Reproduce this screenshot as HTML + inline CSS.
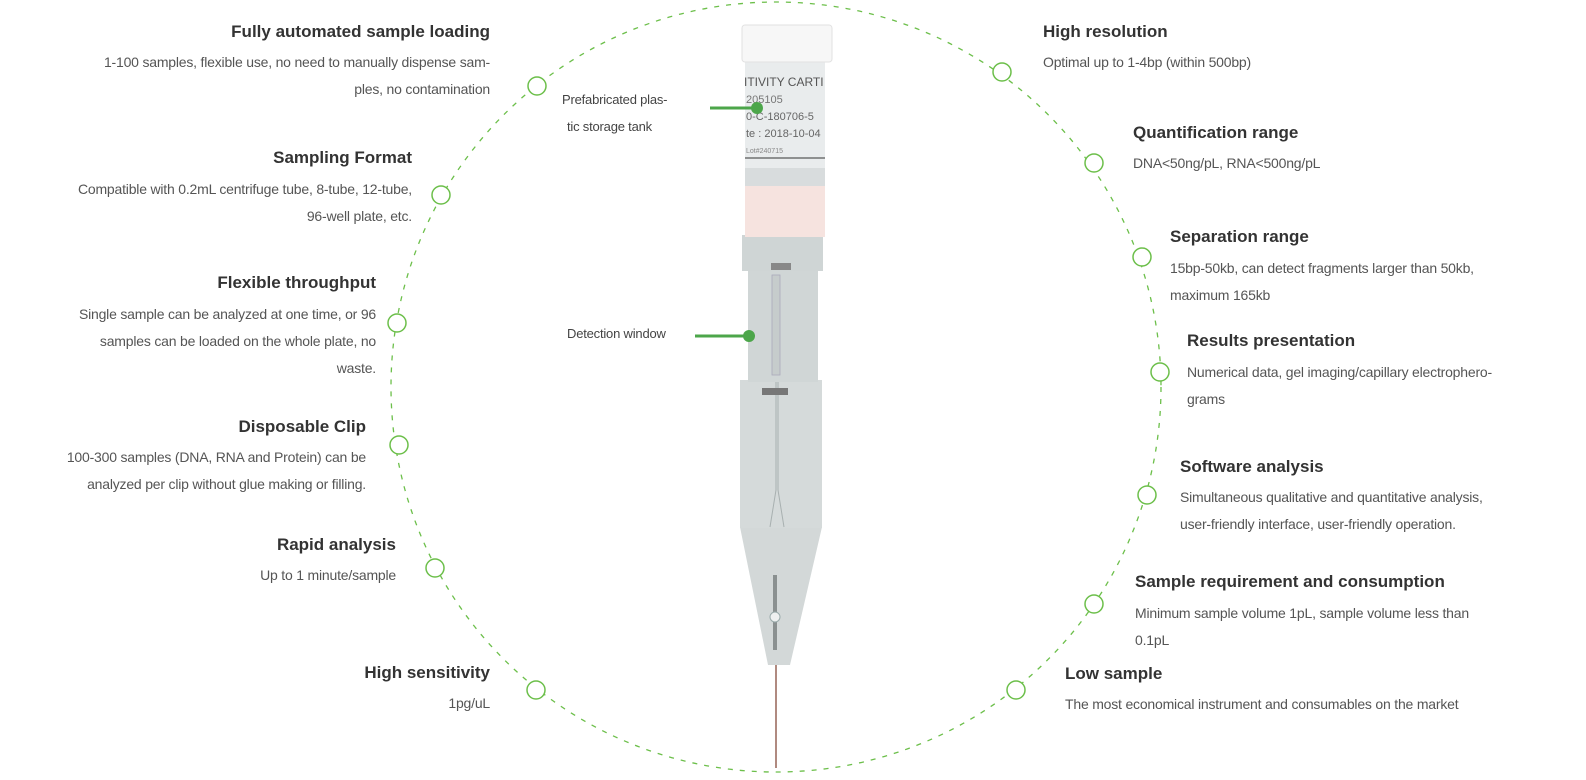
<!DOCTYPE html>
<html><head><meta charset="utf-8"><style>
html,body{margin:0;padding:0;background:#fff;}
#c{position:relative;width:1586px;height:780px;overflow:hidden;font-family:"Liberation Sans",sans-serif;}
.t,.b{position:absolute;white-space:nowrap;line-height:20px;}
.t{font-size:17px;font-weight:bold;color:#333;}
.b{font-size:14px;color:#555;letter-spacing:-0.2px;}
.s{font-size:13px;color:#444;position:absolute;white-space:nowrap;line-height:20px;letter-spacing:-0.2px;}
</style></head><body><div id="c">
<svg width="1586" height="780" style="position:absolute;left:0;top:0">
<circle cx="776" cy="387" r="385" fill="none" stroke="#6cbf4a" stroke-width="1.3" stroke-dasharray="5 7"/>
<g fill="#fff" stroke="#6cbf4a" stroke-width="1.5">
<circle cx="537" cy="86" r="9"/><circle cx="441" cy="195" r="9"/><circle cx="397" cy="323" r="9"/>
<circle cx="399" cy="445" r="9"/><circle cx="435" cy="568" r="9"/><circle cx="536" cy="690" r="9"/>
<circle cx="1002" cy="72" r="9"/><circle cx="1094" cy="163" r="9"/><circle cx="1142" cy="257" r="9"/>
<circle cx="1160" cy="372" r="9"/><circle cx="1147" cy="495" r="9"/><circle cx="1094" cy="604" r="9"/>
<circle cx="1016" cy="690" r="9"/>
</g>
<line x1="776" y1="660" x2="776" y2="768" stroke="#b08a80" stroke-width="2"/>
<path d="M740 527 L822 527 L790 665 L768 665 Z" fill="#d3d8d8"/>
<rect x="773" y="575" width="4" height="75" fill="#8a9090"/>
<circle cx="775" cy="617" r="5" fill="#eef0f0" stroke="#9aa" />
<rect x="740" y="380" width="82" height="148" fill="#d5dada"/>
<path d="M776 380 L776 490 L770 527 M778 380 L778 490 L784 527" stroke="#a8b0b0" fill="none"/>
<rect x="762" y="388" width="26" height="7" fill="#777"/>
<rect x="748" y="270" width="70" height="112" fill="#d0d6d6"/>
<rect x="772" y="275" width="8" height="100" fill="#c6cccc" stroke="#aab" stroke-width="0.8"/>
<rect x="742" y="235" width="81" height="36" fill="#cfd5d5"/>
<rect x="771" y="263" width="20" height="7" fill="#888"/>
<rect x="745" y="185" width="80" height="52" fill="#f6e3df"/>
<rect x="745" y="62" width="80" height="124" fill="#e9eced"/>
<rect x="745" y="168" width="80" height="18" fill="#d8dcdd"/>
<line x1="745" y1="158" x2="825" y2="158" stroke="#333" stroke-width="1"/>
<rect x="742" y="25" width="90" height="37" rx="3" fill="#f7f7f7" stroke="#e2e2e2"/>
<text x="744" y="86" font-family="Liberation Sans" font-size="12" fill="#555">ITIVITY CARTI</text>
<text x="746" y="103" font-family="Liberation Sans" font-size="11" fill="#777">205105</text>
<text x="746" y="120" font-family="Liberation Sans" font-size="11" fill="#666">0-C-180706-5</text>
<text x="746" y="137" font-family="Liberation Sans" font-size="11" fill="#666">te : 2018-10-04</text>
<text x="746" y="153" font-family="Liberation Sans" font-size="7" fill="#888">Lot#240715</text>
<line x1="710" y1="108" x2="757" y2="108" stroke="#4ca64a" stroke-width="3"/>
<circle cx="757" cy="108" r="6" fill="#4ca64a"/>
<line x1="695" y1="336" x2="748" y2="336" stroke="#4ca64a" stroke-width="3"/>
<circle cx="749" cy="336" r="6" fill="#4ca64a"/>
</svg>
<div class="s" style="left:562px;top:90px">Prefabricated plas-</div>
<div class="s" style="left:567px;top:117px">tic storage tank</div>
<div class="s" style="left:567px;top:324px">Detection window</div>

<div class="t" style="right:1096px;top:22px">Fully automated sample loading</div>
<div class="b" style="right:1096px;top:52px">1-100 samples, flexible use, no need to manually dispense sam-</div>
<div class="b" style="right:1096px;top:79px">ples, no contamination</div>

<div class="t" style="right:1174px;top:148px">Sampling Format</div>
<div class="b" style="right:1174px;top:179px">Compatible with 0.2mL centrifuge tube, 8-tube, 12-tube,</div>
<div class="b" style="right:1174px;top:206px">96-well plate, etc.</div>

<div class="t" style="right:1210px;top:273px">Flexible throughput</div>
<div class="b" style="right:1210px;top:304px">Single sample can be analyzed at one time, or 96</div>
<div class="b" style="right:1210px;top:331px">samples can be loaded on the whole plate, no</div>
<div class="b" style="right:1210px;top:358px">waste.</div>

<div class="t" style="right:1220px;top:417px">Disposable Clip</div>
<div class="b" style="right:1220px;top:447px">100-300 samples (DNA, RNA and Protein) can be</div>
<div class="b" style="right:1220px;top:474px">analyzed per clip without glue making or filling.</div>

<div class="t" style="right:1190px;top:535px">Rapid analysis</div>
<div class="b" style="right:1190px;top:565px">Up to 1 minute/sample</div>

<div class="t" style="right:1096px;top:663px">High sensitivity</div>
<div class="b" style="right:1096px;top:693px">1pg/uL</div>

<div class="t" style="left:1043px;top:22px">High resolution</div>
<div class="b" style="left:1043px;top:52px">Optimal up to 1-4bp (within 500bp)</div>

<div class="t" style="left:1133px;top:123px">Quantification range</div>
<div class="b" style="left:1133px;top:153px">DNA&lt;50ng/pL, RNA&lt;500ng/pL</div>

<div class="t" style="left:1170px;top:227px">Separation range</div>
<div class="b" style="left:1170px;top:258px">15bp-50kb, can detect fragments larger than 50kb,</div>
<div class="b" style="left:1170px;top:285px">maximum 165kb</div>

<div class="t" style="left:1187px;top:331px">Results presentation</div>
<div class="b" style="left:1187px;top:362px">Numerical data, gel imaging/capillary electrophero-</div>
<div class="b" style="left:1187px;top:389px">grams</div>

<div class="t" style="left:1180px;top:457px">Software analysis</div>
<div class="b" style="left:1180px;top:487px">Simultaneous qualitative and quantitative analysis,</div>
<div class="b" style="left:1180px;top:514px">user-friendly interface, user-friendly operation.</div>

<div class="t" style="left:1135px;top:572px">Sample requirement and consumption</div>
<div class="b" style="left:1135px;top:603px">Minimum sample volume 1pL, sample volume less than</div>
<div class="b" style="left:1135px;top:630px">0.1pL</div>

<div class="t" style="left:1065px;top:664px">Low sample</div>
<div class="b" style="left:1065px;top:694px">The most economical instrument and consumables on the market</div>
</div></body></html>
